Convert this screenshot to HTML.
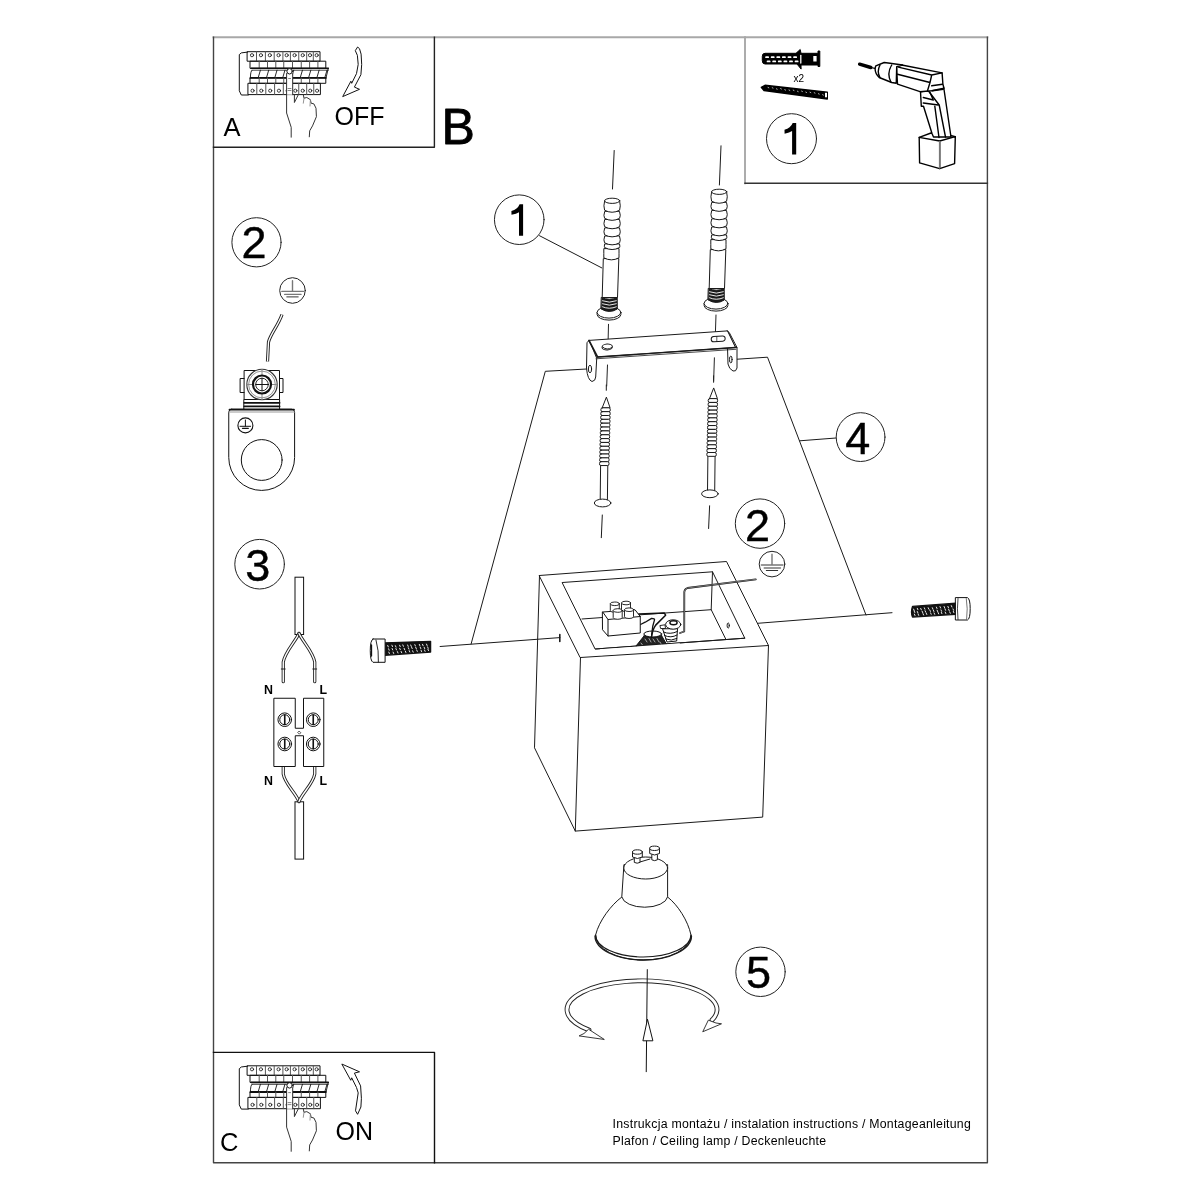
<!DOCTYPE html>
<html><head><meta charset="utf-8">
<style>
html,body{margin:0;padding:0;background:#fff;width:1200px;height:1200px;overflow:hidden}
svg{display:block;will-change:transform}
text{font-family:"Liberation Sans",sans-serif;fill:#000}
</style></head><body>
<svg width="1200" height="1200" viewBox="0 0 1200 1200" fill="none" stroke="#111" stroke-width="1" stroke-linejoin="round" stroke-linecap="round">
<!-- FRAME -->
<g stroke-linecap="square" fill="none">
<path d="M213.5,37.2 L987.4,37.2" stroke="#a8a8a8" stroke-width="1.9"/>
<path d="M745,37.2 L745,183.3" stroke="#a8a8a8" stroke-width="1.9"/>
<path d="M213.5,37.2 L213.5,1162.8 L987.4,1162.8 L987.4,37.2" stroke="#444" stroke-width="1.4"/>
<polyline points="213.5,147.3 434.4,147.3 434.4,37.2" stroke="#222" stroke-width="1.4"/>
<path d="M745,183.3 L987.4,183.3" stroke="#333" stroke-width="1.4"/>
<polyline points="213.5,1052.4 434.5,1052.4 434.5,1162.8" stroke="#111" stroke-width="1.4"/>
</g>
<!-- LETTERS -->
<g stroke="none">
<text x="223.5" y="135.5" font-size="25.5">A</text>
<text x="334.5" y="124.5" font-size="25">OFF</text>
<text x="441.5" y="143.7" font-size="50" stroke="#000" stroke-width="0.8">B</text>
<text x="220" y="1150.5" font-size="25.5">C</text>
<text x="335.5" y="1139.5" font-size="25">ON</text>
</g>
<!-- NUMBER CIRCLES -->
<g stroke="#222" stroke-width="1">
<circle cx="791.5" cy="138.7" r="25"/>
<circle cx="519.25" cy="219.7" r="24.8"/>
<circle cx="860.6" cy="437.1" r="24.4"/>
<circle cx="760" cy="523.6" r="24.7"/>
<circle cx="760.5" cy="971.8" r="24.7"/>
<circle cx="256.5" cy="242.3" r="24.6"/>
<circle cx="259.6" cy="564.2" r="24.8"/>
</g>
<g stroke="#000" stroke-width="0.4" font-size="45" text-anchor="middle">
<text x="857.8" y="454">4</text>
<text x="757.5" y="541">2</text>
<text x="758.4" y="988.2">5</text>
<text x="254.1" y="258.4">2</text>
<text x="257.7" y="580.6">3</text>
</g>
<path id="one" d="M523.1,204.25 L523.1,235.75 L519,235.75 L519,212.2 Q516.5,214 511.5,214.8 L511.4,211 Q517.5,209.5 519.6,204.25 Z" fill="#000" stroke="none"/>
<use href="#one" transform="translate(273.1,-81.15)"/>
<!-- bottom text -->
<g stroke="none" font-size="12.3" letter-spacing="0.25">
<text x="612.6" y="1128.2">Instrukcja montażu / instalation instructions / Montageanleitung</text>
<text x="612.6" y="1144.5">Plafon / Ceiling lamp / Deckenleuchte</text>
</g>
<g id="panel" stroke="#111" stroke-width="1">
<path d="M247.5,52.1 L241.3,52.9 L239.3,54.6 L239.3,90.8 L241.3,95 L248.3,95"/>
<rect x="247.5" y="51.7" width="72.5" height="9.5"/>
<line x1="256.5" y1="51.7" x2="256.5" y2="61.2" stroke="#555"/>
<line x1="265.4" y1="51.7" x2="265.4" y2="61.2" stroke="#555"/>
<line x1="274.2" y1="51.7" x2="274.2" y2="61.2" stroke="#555"/>
<line x1="282.9" y1="51.7" x2="282.9" y2="61.2" stroke="#555"/>
<line x1="290.4" y1="51.7" x2="290.4" y2="61.2" stroke="#555"/>
<line x1="298.75" y1="51.7" x2="298.75" y2="61.2" stroke="#555"/>
<line x1="306.7" y1="51.7" x2="306.7" y2="61.2" stroke="#555"/>
<line x1="313.3" y1="51.7" x2="313.3" y2="61.2" stroke="#555"/>
<circle cx="252.00" cy="55.2" r="1.6" stroke-width="0.8"/>
<circle cx="260.95" cy="55.2" r="1.6" stroke-width="0.8"/>
<circle cx="269.80" cy="55.2" r="1.6" stroke-width="0.8"/>
<circle cx="278.55" cy="55.2" r="1.6" stroke-width="0.8"/>
<circle cx="286.65" cy="55.2" r="1.6" stroke-width="0.8"/>
<circle cx="294.57" cy="55.2" r="1.6" stroke-width="0.8"/>
<circle cx="302.73" cy="55.2" r="1.6" stroke-width="0.8"/>
<circle cx="310.00" cy="55.2" r="1.6" stroke-width="0.8"/>
<circle cx="316.65" cy="55.2" r="1.6" stroke-width="0.8"/>
<rect x="250.4" y="61.2" width="75.4" height="7.1"/>
<line x1="259.2" y1="61.2" x2="259.2" y2="68.3" stroke="#555"/>
<line x1="267.5" y1="61.2" x2="267.5" y2="68.3" stroke="#555"/>
<line x1="275.8" y1="61.2" x2="275.8" y2="68.3" stroke="#555"/>
<line x1="283.75" y1="61.2" x2="283.75" y2="68.3" stroke="#555"/>
<line x1="292.5" y1="61.2" x2="292.5" y2="68.3" stroke="#555"/>
<line x1="301.25" y1="61.2" x2="301.25" y2="68.3" stroke="#555"/>
<line x1="309.6" y1="61.2" x2="309.6" y2="68.3" stroke="#555"/>
<line x1="317.9" y1="61.2" x2="317.9" y2="68.3" stroke="#555"/>
<line x1="251.2" y1="68.3" x2="328.3" y2="68.3" stroke-width="1.6"/>
<line x1="252" y1="70.2" x2="328.3" y2="70.2" stroke-width="0.8"/>
<path d="M252,70.2 Q250.4,71 250.4,77.9" stroke-width="0.9"/>
<line x1="328.3" y1="68.3" x2="326" y2="77.9" stroke-width="0.9"/>
<line x1="250.4" y1="77.9" x2="325.8" y2="77.9" stroke-width="1.8"/>
<line x1="260.40" y1="70.2" x2="258.40" y2="77" stroke-width="0.9"/>
<line x1="268.70" y1="70.2" x2="266.70" y2="77" stroke-width="0.9"/>
<line x1="277.00" y1="70.2" x2="275.00" y2="77" stroke-width="0.9"/>
<line x1="284.95" y1="70.2" x2="282.95" y2="77" stroke-width="0.9"/>
<line x1="293.70" y1="70.2" x2="291.70" y2="77" stroke-width="0.9"/>
<line x1="302.45" y1="70.2" x2="300.45" y2="77" stroke-width="0.9"/>
<line x1="310.80" y1="70.2" x2="308.80" y2="77" stroke-width="0.9"/>
<line x1="319.10" y1="70.2" x2="317.10" y2="77" stroke-width="0.9"/>
<line x1="327.00" y1="70.2" x2="325.00" y2="77" stroke-width="0.9"/>
<rect x="250.4" y="77.9" width="75.4" height="5.4"/>
<line x1="259.2" y1="77.9" x2="259.2" y2="83.3" stroke="#555"/>
<line x1="267.5" y1="77.9" x2="267.5" y2="83.3" stroke="#555"/>
<line x1="275.8" y1="77.9" x2="275.8" y2="83.3" stroke="#555"/>
<line x1="283.75" y1="77.9" x2="283.75" y2="83.3" stroke="#555"/>
<line x1="292.5" y1="77.9" x2="292.5" y2="83.3" stroke="#555"/>
<line x1="301.25" y1="77.9" x2="301.25" y2="83.3" stroke="#555"/>
<line x1="309.6" y1="77.9" x2="309.6" y2="83.3" stroke="#555"/>
<line x1="317.9" y1="77.9" x2="317.9" y2="83.3" stroke="#555"/>
<rect x="248.3" y="83.3" width="72.1" height="11.3"/>
<line x1="256.8" y1="83.3" x2="256.8" y2="94.6" stroke="#555"/>
<line x1="265.8" y1="83.3" x2="265.8" y2="94.6" stroke="#555"/>
<line x1="274.6" y1="83.3" x2="274.6" y2="94.6" stroke="#555"/>
<line x1="283.3" y1="83.3" x2="283.3" y2="94.6" stroke="#555"/>
<line x1="292.0" y1="83.3" x2="292.0" y2="94.6" stroke="#555"/>
<line x1="298.75" y1="83.3" x2="298.75" y2="94.6" stroke="#555"/>
<line x1="306.7" y1="83.3" x2="306.7" y2="94.6" stroke="#555"/>
<line x1="313.75" y1="83.3" x2="313.75" y2="94.6" stroke="#555"/>
<circle cx="252.55" cy="90.7" r="1.6" stroke-width="0.8"/>
<circle cx="261.30" cy="90.7" r="1.6" stroke-width="0.8"/>
<circle cx="270.20" cy="90.7" r="1.6" stroke-width="0.8"/>
<circle cx="278.95" cy="90.7" r="1.6" stroke-width="0.8"/>
<circle cx="287.65" cy="90.7" r="1.6" stroke-width="0.8"/>
<circle cx="295.38" cy="90.7" r="1.6" stroke-width="0.8"/>
<circle cx="302.73" cy="90.7" r="1.6" stroke-width="0.8"/>
<circle cx="310.23" cy="90.7" r="1.6" stroke-width="0.8"/>
<circle cx="317.07" cy="90.7" r="1.6" stroke-width="0.8"/>
<path d="M286.7,72.5 L292.7,72.5 L292.7,94.7 L286.7,94.7 Z" fill="#fff" stroke="none"/>
<path d="M286.6,73.5 L286.6,113 L291.2,127.3 L291.2,137.2" fill="none" stroke="#333"/>
<path d="M292.7,73.5 L292.7,94.7" fill="none" stroke="#333"/>
<path d="M294.4,94.7 L294.4,102.5 L298.3,94.7" fill="none" stroke="#333"/>
<path d="M303.3,94.7 L304,98.2 L306.8,97.5 L310.4,99.7 L311.1,103.2 L313.9,103.9 L316,108.2 L316.4,116.7 L312.5,125.9 L309.7,130.8 L309.3,136.8" fill="none" stroke="#333"/>
<path d="M304,98.2 L303.3,103.2 M310.4,99.7 L310,106" stroke="#888" stroke-width="0.9" fill="none"/>
<circle cx="289.6" cy="71.3" r="2.7" fill="#fff" stroke="#111"/>
<path d="M288.6,78.5 h2 M288,88.5 h3 M288,90.5 h3" stroke="#666" stroke-width="0.8"/>
</g>
<use href="#panel" transform="translate(0,1014.1)"/>
<g stroke="#111" stroke-width="1" fill="#fff">
<path d="M355.5,50.3 L357.6,47 L359.5,48.7 L361.1,54.1 L361.7,64.4 L360.9,74.7 L354.4,87.1 L359.5,89.3 L342.7,96.6 L350.9,81.2 L351.7,83.3 L356.5,73.6 L358.2,64.4 L357.4,55.7 Z"/>
<path d="M342.2,1064.2 L359.5,1071.8 L354.4,1073.1 L360.6,1085.9 L361.4,1098.3 L360.9,1107 L357.6,1114.3 L355.5,1110.8 L358.2,1092.9 L356.5,1087.5 L351.7,1077.8 L350.9,1079.9 Z"/>
</g>

<!-- BOX 1 contents -->
<g stroke="#000" fill="#000" stroke-width="1">
<!-- anchor -->
<path d="M762.3,56 Q762.3,53.3 765,53.3 L796,53.3 L800.2,49.5 L801,53.3 L818,53.3 L818,51 L819.8,51 L819.8,66.5 L818,66.5 L818,65 L801,65 L801.1,69.1 L797,64 L765,64 Q762.3,64 762.3,61 Z"/>
<g stroke="#fff" fill="none">
<path d="M766,57.2 L799,57.2" stroke-width="1.7" stroke-dasharray="2.2,3.4"/>
<path d="M767.5,61.4 L799,61.4" stroke-width="1.7" stroke-dasharray="2.2,3.4"/>
<path d="M800.8,55.5 L800.8,63" stroke-width="1.3"/>
</g>
<rect x="813.3" y="56" width="3.3" height="5.5" fill="#fff" stroke="none"/>
<!-- screw -->
<path d="M761.3,87.3 L765,85.3 L827.3,92.3 L827.3,99 L764,90.5 Z" stroke-width="1.4"/>
<rect x="825" y="92.8" width="2" height="4.5" fill="#fff" stroke="none"/>
<path d="M768.0,87.4 l0.8,0.4 M772.2,87.7 l0.8,0.4 M776.4,88.8 l0.8,0.4 M780.6,88.6 l0.8,0.4 M784.8,89.7 l0.8,0.4 M789.0,90.0 l0.8,0.4 M793.2,90.1 l0.8,0.4 M797.4,91.2 l0.8,0.4 M801.6,91.1 l0.8,0.4 M805.8,92.1 l0.8,0.4 M810.0,92.2 l0.8,0.4 M814.2,92.7 l0.8,0.4 M818.4,93.7 l0.8,0.4 M822.6,94.7 l0.8,0.4" stroke="#fff" stroke-width="0.7" fill="none"/>
</g>
<text x="793.6" y="81.6" font-size="10" stroke="none" fill="#222">x2</text>
<!-- drill -->
<g stroke="#000" stroke-width="1.4" fill="#fff">
<path d="M859.6,64.2 L870.8,67.5" stroke-width="3.4"/>
<path d="M870.8,67.5 L875,68.3" stroke-width="1.2"/>
<!-- battery -->
<path d="M919.2,137.4 L939.7,141 L939.7,168.6 L919.6,162.9 Z"/>
<path d="M939.7,141 L955.3,136.7 L954.6,163.6 L939.7,168.6 Z"/>
<path d="M919.2,137.4 L931,133 L945,134 L955.3,136.7" fill="none"/>
<path d="M939.7,141.5 L939.7,168" fill="none" stroke="#777" stroke-width="1.6"/>
<!-- handle -->
<path d="M920.5,91.7 L921.3,106.2 L923.5,106.2 L932,133.5 L933.5,137 L951,137 L943.8,88 Z"/>
<path d="M928.3,90.8 L939.2,105 L945.5,137" fill="none"/>
<path d="M934.8,106.2 L939,137.5" fill="none"/>
<path d="M930,92.5 L933.3,100 L923.3,97.5" fill="none"/>
<path d="M923.3,103 L938.3,105" fill="none"/>
<!-- body -->
<path d="M896.5,66.7 L901.7,65 L942.1,72.9 L942.9,84.2 L944,88.3 L931.7,90.8 L920,91.7 L897.5,84.2 Z"/>
<path d="M898.3,67.1 L931.7,75 L942.1,72.9 M897.5,74.2 L930,82.5 L927.5,90.8 M931.7,75 L930,82.5 M931.7,85.8 L942.5,84.2 M932.5,90.8 L943.3,89.2" fill="none"/>
<!-- chuck -->
<path d="M875.8,65.8 L884.2,62.5 L902.5,65 L896.7,66.7 L896.25,83.3 L891.7,82.5 L879.2,77.5 Q873.5,72 875.8,65.8 Z"/>
<path d="M880,65 Q876.5,71.7 880,77.5 M891.7,65 Q886.5,73.3 890.8,81.7" fill="none"/>
</g>

<!-- DOWELS -->
<g id="dowel" stroke="#1a1a1a" stroke-width="1" fill="#fff">
<path d="M603.3,259 L602.2,297.5 L617.5,297.5 L618.8,259 Z"/>
<path d="M603.8,249.0 Q603.8,254.2 603.8,257.8 Q611.4,261.9 619.0,257.8 Q619.0,254.2 619.0,249.0 Z"/>
<path d="M604.6,244.3 Q604.0,246.7 604.6,247.5 Q612.1,251.6 619.6,247.5 Q620.2,246.7 619.6,244.3 Z"/>
<path d="M604.6,236.3 Q603.2,240.3 604.6,242.8 Q612.1,246.9 619.6,242.8 Q621.0,240.3 619.6,236.3 Z"/>
<path d="M604.6,228.2 Q603.2,232.2 604.6,234.8 Q612.1,238.9 619.6,234.8 Q621.0,232.2 619.6,228.2 Z"/>
<path d="M604.6,219.8 Q603.2,224.0 604.6,226.7 Q612.1,230.8 619.6,226.7 Q621.0,224.0 619.6,219.8 Z"/>
<path d="M604.6,211.7 Q603.2,215.8 604.6,218.3 Q612.1,222.4 619.6,218.3 Q621.0,215.8 619.6,211.7 Z"/>
<path d="M604.6,200.8 Q603.2,206.2 604.6,210.2 Q612.1,214.3 619.6,210.2 Q621.0,206.2 619.6,200.8 Z"/>
<ellipse cx="612.2" cy="200.8" rx="7.6" ry="2.6"/>
<path d="M597.1,312.4 L597.1,314.4 A11.9,5.7 0 0 0 620.9,314.4 L620.9,312.4" />
<ellipse cx="609" cy="312.4" rx="11.9" ry="5.7"/>
<path d="M601.6,297.5 Q609.3,301 617.2,297.5 L617.3,309 Q609.3,314 601.2,309 Z" fill="#1a1a1a"/>
<path d="M602.5,300.8 Q609.3,303.6 616.3,300.8" fill="none" stroke="#fff" stroke-width="0.9"/>
<path d="M602.5,303.8 Q609.3,306.6 616.3,303.8" fill="none" stroke="#fff" stroke-width="0.9"/>
<path d="M602.5,306.8 Q609.3,309.8 616.3,306.8" fill="none" stroke="#fff" stroke-width="0.9"/>
</g>
<use href="#dowel" transform="translate(107,-9)"/>
<path d="M614.2,150.5 L612.5,189 M721,145.8 L719.4,185" stroke="#1a1a1a" fill="none"/>
<path d="M608.5,324.3 L608,345 M716,315 L715.3,336" fill="none" stroke="#222"/>
<g id="nail" stroke="#1a1a1a" stroke-width="1" fill="#fff">
<path d="M606.3,385 L606.3,390.3 M602.3,515 L601.3,537.7" fill="none"/>
<path d="M600.6,465 L600.2,501 L607.4,501 L607.8,465 Z"/>
<path d="M606.25,397.5 L602.2,407.8 L609.7,407.8 Z"/>
<rect x="600.90" y="407.80" width="9.40" height="3.85" rx="1.4" ry="1.6"/>
<rect x="600.80" y="411.65" width="9.41" height="3.85" rx="1.4" ry="1.6"/>
<rect x="600.70" y="415.50" width="9.41" height="3.85" rx="1.4" ry="1.6"/>
<rect x="600.60" y="419.35" width="9.42" height="3.85" rx="1.4" ry="1.6"/>
<rect x="600.50" y="423.20" width="9.43" height="3.85" rx="1.4" ry="1.6"/>
<rect x="600.40" y="427.05" width="9.44" height="3.85" rx="1.4" ry="1.6"/>
<rect x="600.30" y="430.90" width="9.44" height="3.85" rx="1.4" ry="1.6"/>
<rect x="600.20" y="434.75" width="9.45" height="3.85" rx="1.4" ry="1.6"/>
<rect x="600.10" y="438.60" width="9.46" height="3.85" rx="1.4" ry="1.6"/>
<rect x="600.00" y="442.45" width="9.46" height="3.85" rx="1.4" ry="1.6"/>
<rect x="599.90" y="446.30" width="9.47" height="3.85" rx="1.4" ry="1.6"/>
<rect x="599.80" y="450.15" width="9.48" height="3.85" rx="1.4" ry="1.6"/>
<rect x="599.70" y="454.00" width="9.49" height="3.85" rx="1.4" ry="1.6"/>
<rect x="599.60" y="457.85" width="9.49" height="3.85" rx="1.4" ry="1.6"/>
<rect x="599.50" y="461.70" width="9.50" height="3.85" rx="1.4" ry="1.6"/>
<ellipse cx="602.6" cy="503" rx="8.3" ry="3.9"/>
</g>
<use href="#nail" transform="translate(107.3,-9.2)"/>
<!-- BRACKET -->
<g stroke="#1a1a1a" stroke-width="1" fill="#fff">
<!-- left flange -->
<path d="M589,340.4 L587,342.7 L586.5,368 Q587.5,380 592,381.5 Q595.5,381 595.7,377 L596.7,358.7 Z"/>
<ellipse cx="590" cy="369" rx="1.6" ry="3.8" fill="none"/>
<!-- right flange -->
<path d="M727.5,331 L735.5,347.5 L737,347.5 L737,368 Q736,372 733,371 Q729,369 728,364 L727.5,347.5 Z"/>
<ellipse cx="730.8" cy="359.5" rx="1.3" ry="3.5" fill="none"/>
<!-- top surface -->
<path d="M589,340.4 L727.5,330.9 L735.5,347.5 L597.7,357 Z"/>
<path d="M589,340.4 L597.7,357" stroke-width="1.6"/>
<path d="M597.7,357 L735.5,347.5" stroke-width="1.4"/>
<path d="M596,358.8 L735.8,349.3" fill="none" stroke-width="0.8"/>
<path d="M727.5,331 L729.5,333 L737,347.5" fill="none"/>
<ellipse cx="607.2" cy="347" rx="5.2" ry="3" transform="rotate(-4 607.2 347)"/>
<path d="M602.5,347 Q607,351 612,347.5" fill="none"/>
<rect x="711.2" y="336.3" width="14" height="5.2" rx="2.6" transform="rotate(-4 718 339)"/>
<path d="M716.8,336.5 L716.8,341.5" fill="none" stroke-width="0.7"/>
</g>
<!-- axis lines below bracket -->
<path d="M607.5,365 L606.7,386 M714.4,357.8 L713.6,382.3" stroke="#222" fill="none"/>
<!-- LEADER LINES "4" -->
<g stroke="#1a1a1a" stroke-width="1" fill="none">
<polyline points="586.7,369 545.3,371.3 471.1,644"/>
<polyline points="737.3,359.2 767.5,357.2 866,615"/>
<polyline points="440.1,646.5 559.9,637.6"/>
<polyline points="757.7,623.3 892,612.7"/>
<polyline points="799.8,440.8 835.9,438"/>
<polyline points="539.5,235.7 601.8,267.9"/>
</g>

<!-- LAMP BOX -->
<g stroke="#1a1a1a" stroke-width="1" fill="none">
<!-- outer -->
<polyline points="539.5,575.5 534.5,747.8 575.3,831.1 762.7,817.1 768.5,645.5"/>
<polyline points="580.5,657.5 575.3,831.1"/>
<polygon points="539.5,575.5 726.5,561.5 768.5,645.5 580.5,657.5"/>
<!-- opening -->
<polygon points="562.5,582.5 712.5,571.8 744.8,638.2 595.5,649"/>
<polyline points="582,619 711.2,609.7 726,639.6"/>
<polyline points="712.5,571.8 711.2,609.7"/>
<!-- side hole -->
<path d="M559.8,634.5 L559.8,641.5" stroke-width="1.6"/>
<ellipse cx="728.2" cy="625.5" rx="1.1" ry="2.6"/>
</g>
<!-- interior parts -->
<g stroke="#111" stroke-width="1" fill="#fff">
<!-- socket dark hatched -->
<path d="M636,646 L644,636 Q643.5,633 652.75,633 Q662,633 661.8,636 L667,645 Z" fill="#222" stroke="#111"/>
<path d="M645,639 l2,3 M649,638.5 l2,3.5 M653,639 l2,3 M657,638.5 l2,3.5 M641,643 l1.5,2 M660,642 l1.5,2.5" stroke="#fff" stroke-width="0.6" fill="none"/>
<ellipse cx="652.75" cy="634" rx="8.9" ry="3" fill="#fff" stroke="#111"/>
<!-- screw terminal -->
<path d="M662.7,629.2 L667,642 L676.7,641 L677.5,629 Z" fill="#fff" stroke="#111"/>
<path d="M663.5,632 Q670,635 677.3,631.5 M664.5,635.5 Q671,638.5 677,635 M665.5,639 Q671.5,641.5 676.8,638.5" fill="none" stroke="#111" stroke-width="1"/>
<path d="M660.3,625.5 L665,624.8 L665.5,628.5 L661,628.5 Z" fill="#fff" stroke="#111" stroke-width="0.9"/>
<ellipse cx="673.2" cy="624.5" rx="7.6" ry="4.7" fill="#fff" stroke="#111"/>
<ellipse cx="673.5" cy="622.8" rx="3.6" ry="2" fill="#fff" stroke="#111" stroke-width="1.4"/>
<!-- wires -->
<path d="M638.75,614 L664.4,613.1 L665.6,615.2 L655.7,625.1 Q652.2,630 651.6,637.3" fill="none" stroke="#111" stroke-width="1.5"/>
<path d="M640.5,624.5 L645.2,622.2 L651.6,618.4 Q655,618.5 654.5,619.8 L652.75,626.25 L651.6,635" fill="none" stroke="#111" stroke-width="1.3"/>
<!-- terminal block -->
<path d="M602.75,612 L635,609.75 L640.25,616.5 L640.25,633 L608,636 L602.75,630 Z"/>
<path d="M602.75,612 L608,619.5 L640.25,616.5 M608,619.5 L608,636" fill="none"/>
<g stroke-width="0.9">
<path d="M610.3,603.8 L610.3,610.5 A4.5,1.8 0 0 0 619.3,610.5 L619.3,603.8"/><ellipse cx="614.8" cy="603.8" rx="4.5" ry="1.8"/>
<path d="M621.5,603 L621.5,609.7 A4.5,1.8 0 0 0 630.5,609.7 L630.5,603"/><ellipse cx="626" cy="603" rx="4.5" ry="1.8"/>
<path d="M613.2,610.5 L613.2,617.5 A4.5,1.8 0 0 0 622.2,617.5 L622.2,610.5"/><ellipse cx="617.7" cy="610.5" rx="4.5" ry="1.8"/>
<path d="M624.5,609.7 L624.5,616.7 A4.5,1.8 0 0 0 633.5,616.7 L633.5,609.7"/><ellipse cx="629" cy="609.7" rx="4.5" ry="1.8"/>
</g>
<!-- ground wire -->
<path d="M755.75,579.3 L687.5,588 Q684.5,589 684.3,592 L684.25,631.5 L680,633" fill="none" stroke-width="1.8"/>
<path d="M755.75,579.3 L687.5,588 Q684.5,589 684.3,592 L684.25,631.5 L680,633" fill="none" stroke="#ddd" stroke-width="0.5"/>
</g>
<!-- redraw opening front edge over socket -->
<path d="M595.5,649 L744.8,638.2" stroke="#1a1a1a" stroke-width="1" fill="none"/>
<rect x="600" y="649.3" width="80" height="6" fill="#fff" stroke="none" transform="rotate(-4.4 600 649)"/>

<!-- GROUND SYMBOLS -->
<g id="gnd" fill="none">
<circle cx="772" cy="564.1" r="12.8" stroke="#222" stroke-width="1"/>
<path d="M772,554.3 L772,565 M761.3,565 L783,565 M764.2,568 L780.5,568" stroke="#777" stroke-width="1.4"/>
<path d="M766.3,570.5 L777.7,570.5" stroke="#333" stroke-width="1"/>
</g>
<use href="#gnd" transform="translate(-479.5,-273.6)"/>
<!-- HORIZONTAL SCREWS -->
<g stroke="#111" stroke-width="1">
<path d="M385.1,642.8 L430.6,641.3 L430.6,652.1 L385.1,655.3 Z" fill="#111" stroke-width="1.3"/>
<path d="M387.7,645.5 l0.6,1.4 M388.6,648.8 l0.6,1.4 M388.8,652.1 l0.6,1.4 M391.9,645.2 l0.6,1.4 M392.1,648.5 l0.6,1.4 M393.1,652.1 l0.6,1.4 M395.4,645.7 l0.6,1.4 M395.9,648.5 l0.6,1.4 M397.4,651.6 l0.6,1.4 M399.6,645.2 l0.6,1.4 M399.7,648.3 l0.6,1.4 M401.1,651.4 l0.6,1.4 M402.8,644.9 l0.6,1.4 M404.1,648.3 l0.6,1.4 M405.3,651.1 l0.6,1.4 M407.6,645.0 l0.6,1.4 M408.3,647.7 l0.6,1.4 M409.2,650.6 l0.6,1.4 M410.7,645.0 l0.6,1.4 M411.6,647.2 l0.6,1.4 M412.6,650.8 l0.6,1.4 M414.8,644.6 l0.6,1.4 M415.7,647.3 l0.6,1.4 M416.7,650.0 l0.6,1.4 M419.3,644.4 l0.6,1.4 M420.2,647.2 l0.6,1.4 M421.0,650.2 l0.6,1.4 M422.5,644.3 l0.6,1.4 M424.1,647.2 l0.6,1.4 M424.5,650.0 l0.6,1.4 M426.5,644.1 l0.6,1.4 M427.6,646.9 l0.6,1.4 M427.9,649.2 l0.6,1.4" stroke="#fff" stroke-width="0.9" fill="none"/>
<path d="M373,639 L385.1,639 L385.1,662.3 L373,662.3 Q370.25,661 370.25,650.6 Q370.25,640 373,639 Z" fill="#fff"/>
<path d="M376,640 Q379,650.6 378.4,662" fill="none" stroke-width="0.9"/>
<path d="M371.5,645 v11" stroke-width="1.3"/>
</g>
<g stroke="#111" stroke-width="1">
<path d="M912.5,606.4 L955.75,603.2 L955.75,614.3 L912.5,617.1 Q910.5,612 912.5,606.4 Z" fill="#111" stroke-width="1.3"/>
<path d="M913.6,609.1 l0.6,1.4 M914.2,611.1 l0.6,1.4 M914.4,614.1 l0.6,1.4 M917.3,608.3 l0.6,1.4 M917.3,611.5 l0.6,1.4 M918.1,614.0 l0.6,1.4 M920.7,608.4 l0.6,1.4 M922.1,611.2 l0.6,1.4 M923.0,613.6 l0.6,1.4 M924.3,607.8 l0.6,1.4 M925.1,610.7 l0.6,1.4 M926.2,613.1 l0.6,1.4 M928.2,607.7 l0.6,1.4 M929.8,610.0 l0.6,1.4 M930.6,612.9 l0.6,1.4 M932.3,607.7 l0.6,1.4 M933.3,610.1 l0.6,1.4 M934.1,612.9 l0.6,1.4 M936.4,607.1 l0.6,1.4 M937.1,610.2 l0.6,1.4 M938.1,612.5 l0.6,1.4 M940.0,606.6 l0.6,1.4 M941.0,609.9 l0.6,1.4 M941.3,612.3 l0.6,1.4 M944.1,606.5 l0.6,1.4 M945.0,608.9 l0.6,1.4 M945.2,612.1 l0.6,1.4 M947.9,606.4 l0.6,1.4 M948.6,609.2 l0.6,1.4 M949.7,611.9 l0.6,1.4 M951.3,605.6 l0.6,1.4 M953.0,608.9 l0.6,1.4 M953.3,611.3 l0.6,1.4" stroke="#fff" stroke-width="0.9" fill="none"/>
<path d="M955.75,597.6 L967.5,597.6 Q970.2,599 970.2,608.6 Q970.2,619 967.5,620 L955.75,620 Z" fill="#fff"/>
<path d="M966.3,598.5 Q968,608.6 966.6,619.5" fill="none" stroke="#666" stroke-width="0.9"/>
<path d="M958,598.5 Q956.8,608.6 958,619.5" fill="none" stroke-width="0.8"/>
</g>
<!-- BULB -->
<g stroke="#1a1a1a" stroke-width="1" fill="#fff">
<path d="M621.8,897 C611,905 599,921 595.6,935 A47.7,25 0 0 0 691,935 C688,921 678,905 667.6,897 Z"/>
<path d="M595.6,935 A47.7,22 0 0 0 691,935" fill="none" stroke-width="1.2"/>
<path d="M595,936 A48.2,24 0 0 0 691.5,936" fill="none" stroke-width="1.3"/>
<path d="M623.9,865 L621.8,896.8 A23,11.5 0 0 0 667.6,896.8 L667.6,865 Z"/>
<ellipse cx="645.7" cy="868" rx="21.9" ry="11"/>
<path d="M640,862 L650,859" fill="none"/>
<path d="M634.3,855 L634.3,862.4 Q637.2,864 640,862.4 L640,855 Z"/>
<path d="M632.5,852 L632.5,857 Q637.4,860 642.3,857 L642.3,852 Z"/>
<ellipse cx="637.4" cy="852" rx="4.9" ry="2.2"/>
<path d="M651.8,852 L651.8,859.8 Q654.6,861.5 657.4,859.8 L657.4,852 Z"/>
<path d="M649.7,848.3 L649.7,853.5 Q654.6,856.5 659.5,853.5 L659.5,848.3 Z"/>
<ellipse cx="654.6" cy="848.3" rx="4.9" ry="2.2"/>
</g>
<!-- ROTATION ARROW -->
<g fill="none">
<path d="M589,1030 A75,28.8 0 1 1 712,1020" stroke="#222" stroke-width="4.8"/>
<path d="M589,1030 A75,28.8 0 1 1 712,1020" stroke="#fff" stroke-width="2.9"/>
<path d="M603.9,1039.4 L579.1,1035.9 L584,1033.5 L588.3,1029.5 Z" stroke="#222" stroke-width="0.9" fill="#fff"/>
<path d="M703.1,1031.6 L721.5,1023.8 L716,1023 L708.7,1020.3 Z" stroke="#222" stroke-width="0.9" fill="#fff"/>
</g>
<!-- axis + triangle -->
<path d="M647.3,969.6 L646.25,1071.7" stroke="#111" stroke-width="1" fill="none"/>
<path d="M647.4,1019.6 L642.9,1040.8 L652.5,1040.8 Z" stroke="#111" stroke-width="1" fill="#fff"/>

<!-- LEFT COLUMN: earth terminal -->
<g stroke="#111" stroke-width="1" fill="#fff">
<!-- wire -->
<path d="M282,314.5 C278,326 271,333 268.5,342 L267.5,361.5" fill="none" stroke="#222" stroke-width="3.2" stroke-linecap="butt"/>
<path d="M282,314.5 C278,326 271,333 268.5,342 L267.5,361.5" fill="none" stroke="#fff" stroke-width="1.3" stroke-linecap="butt"/>
<!-- lug -->
<path d="M231.7,409.2 L291.6,409.2 Q294.6,409.2 294.6,412.2 L294.6,457.5 A32.9,32.9 0 0 1 228.75,457.5 L228.75,412.2 Q228.75,409.2 231.7,409.2 Z"/>
<path d="M229.5,409.6 L294,409.6" stroke-width="1.8"/>
<path d="M229.3,412 L294.2,412" stroke="#999" stroke-width="1"/>
<circle cx="261.7" cy="460" r="20.4"/>
<circle cx="245.4" cy="425.4" r="7.5" stroke-width="1.1"/>
<path d="M245.4,420 L245.4,426.3 M240,426.3 L250.6,426.3" fill="none" stroke-width="1"/>
<path d="M242.5,428.3 L248.3,428.3" fill="none" stroke-width="1.3"/>
<!-- base strip -->
<rect x="244.2" y="399.5" width="35.4" height="9.5"/>
<path d="M244.2,402.8 L279.6,402.8 M244.2,406.3 L279.6,406.3" stroke-width="1.7" fill="none"/>
<!-- tabs & box -->
<rect x="240.5" y="378.5" width="42.5" height="14"/>
<rect x="244.5" y="370.5" width="35" height="29"/>
<circle cx="262" cy="384.5" r="15.2" stroke="#333" stroke-width="1.1"/><circle cx="262" cy="384.5" r="13.4" stroke="#777" stroke-width="0.8" fill="none"/>
<path d="M262,369.5 L262,399.5 M246.8,384.5 L277.2,384.5" stroke="#888" fill="none"/>
<circle cx="262" cy="384.5" r="9" stroke-width="2.2"/>
<circle cx="262" cy="384.5" r="6.3" stroke-width="0.9"/>
<path d="M262,378.2 L262,390.8 M255.7,384.5 L268.3,384.5" stroke-width="1" fill="none"/>
</g>
<!-- LEFT COLUMN: wiring diagram -->
<g stroke="#111" stroke-width="1" fill="#fff">
<rect x="295" y="577.2" width="8.6" height="57.3" stroke-linejoin="miter"/>
<rect x="295" y="801.8" width="8.6" height="57.3" stroke-linejoin="miter"/>
<g fill="none">
<path d="M299,633.5 C295,642 285,652 283.25,662 L283.25,681.75" stroke="#222" stroke-width="3.2"/>
<path d="M299,633.5 C295,642 285,652 283.25,662 L283.25,681.75" stroke="#fff" stroke-width="1.4"/>
<path d="M299,633.5 C303,642 313,652 314.75,662 L314.75,681.75" stroke="#222" stroke-width="3.2"/>
<path d="M299,633.5 C303,642 313,652 314.75,662 L314.75,681.75" stroke="#fff" stroke-width="1.4"/>
<path d="M283.25,766.5 L283.25,774 C285,784 295,792 299,801.5" stroke="#222" stroke-width="3.2"/>
<path d="M283.25,766.5 L283.25,774 C285,784 295,792 299,801.5" stroke="#fff" stroke-width="1.4"/>
<path d="M314.75,766.5 L314.75,774 C313,784 303,792 299,801.5" stroke="#222" stroke-width="3.2"/>
<path d="M314.75,766.5 L314.75,774 C313,784 303,792 299,801.5" stroke="#fff" stroke-width="1.4"/>
<path d="M281.3,669 h3.9 M312.8,669 h3.9" stroke="#222" stroke-width="1"/>
</g>
<!-- block -->
<path d="M274.25,698.25 L295.25,698.25 L295.25,728.25 L303.5,728.25 L303.5,698.25 L323.75,698.25 L323.75,766.5 L303.5,766.5 L303.5,735.75 L295.25,735.75 L295.25,766.5 L274.25,766.5 Z"/>
<path d="M299.4,731.3 L300.8,732.75 L299.4,734.2 L298,732.75 Z" stroke-width="0.7"/>
<g stroke-width="1">
<circle cx="284.75" cy="719.7" r="6.8"/><circle cx="284.75" cy="719.7" r="5"/>
<circle cx="313.25" cy="719.7" r="6.8"/><circle cx="313.25" cy="719.7" r="5"/>
<circle cx="284.75" cy="744" r="6.8"/><circle cx="284.75" cy="744" r="5"/>
<circle cx="313.25" cy="744" r="6.8"/><circle cx="313.25" cy="744" r="5"/>
<path d="M284.75,715 v9.4 M313.25,715 v9.4 M284.75,739.3 v9.4 M313.25,739.3 v9.4" stroke-width="1.6" fill="none"/>
</g>
</g>
<g stroke="none" font-size="12.4" font-weight="bold">
<text x="264" y="693.8">N</text>
<text x="319.5" y="693.8">L</text>
<text x="264" y="784.5">N</text>
<text x="319.5" y="784.5">L</text>
</g>
</svg>
</body></html>
